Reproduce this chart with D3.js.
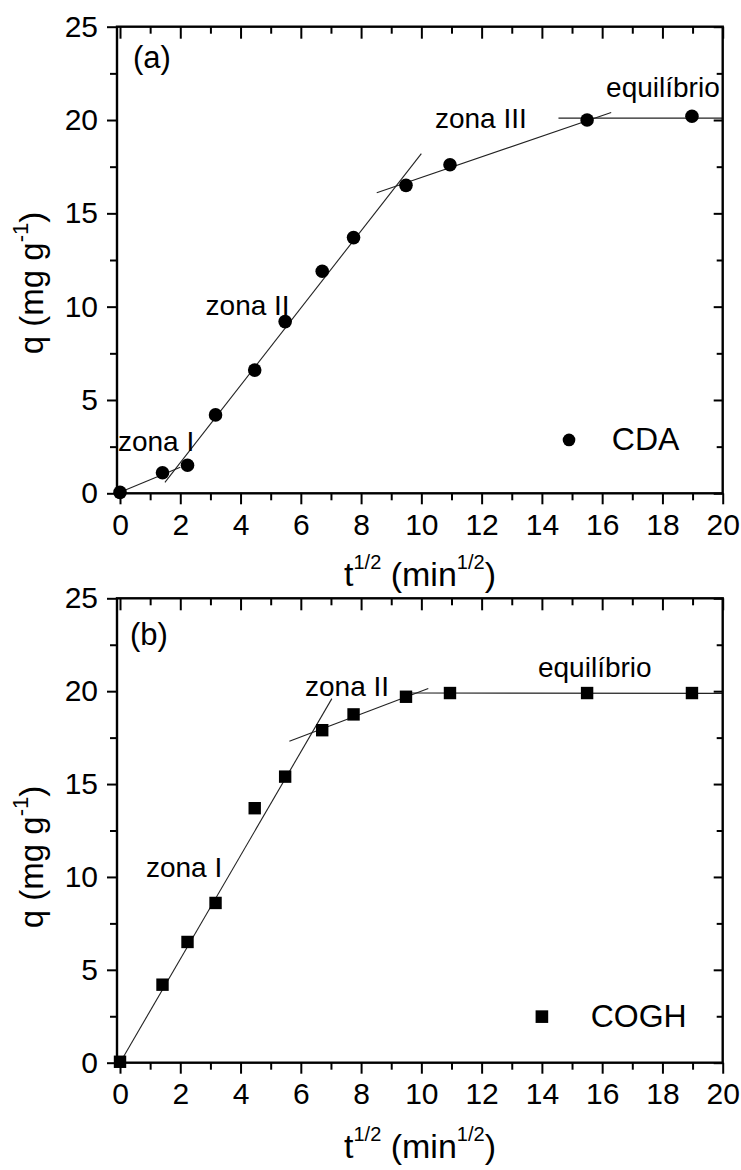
<!DOCTYPE html>
<html>
<head>
<meta charset="utf-8">
<script src="https://cdn.jsdelivr.net/npm/d3@7"></script>
<style>
  body { margin: 0; background: #fff; }
  svg { display: block; font-family: "Liberation Sans", Arial, sans-serif; }
</style>
</head>
<body>
<div id="chart"></div>
<script>
// t^(1/2) values shared by both panels
const tHalf = [0, 1.41, 2.24, 3.17, 4.47, 5.48, 6.71, 7.75, 9.49, 10.95, 15.5, 18.98];
const qCDA = [0.05, 1.1, 1.5, 4.2, 6.6, 9.2, 11.9, 13.7, 16.5, 17.6, 20.0, 20.2];
const qCOGH = [0.05, 4.2, 6.5, 8.6, 13.7, 15.4, 17.9, 18.75, 19.7, 19.9, 19.9, 19.9];

// fitted segments [x1, y1, x2, y2]
const fitCDA = [
    [0, 0.05, 2.0, 1.4],
    [1.49, 0.59, 10.0, 18.2],
    [8.52, 16.1, 16.3, 20.4],
    [14.55, 20.1, 20, 20.1]
];
const fitCOGH = [
    [0, 0, 7.03, 19.6],
    [5.62, 17.3, 10.23, 20.15],
    [9.6, 19.9, 20, 19.88]
];

// zone labels [text, x, y]
const labelsCDA = [["zona I", -0.07, 2.28], ["zona II", 2.84, 9.55], ["zona III", 10.45, 19.58], ["equilíbrio", 16.13, 21.24]];
const labelsCOGH = [["zona I", 0.86, 9.99], ["zona II", 6.14, 19.74], ["equilíbrio", 13.87, 20.78]];

const xMajor = [0, 2, 4, 6, 8, 10, 12, 14, 16, 18, 20];
const xMinor = [1, 3, 5, 7, 9, 11, 13, 15, 17, 19];
const yMajor = [0, 5, 10, 15, 20, 25];
const yMinor = [2.5, 7.5, 12.5, 17.5, 22.5];

const W = 741, H = 1170;

const svg = d3.select("#chart").append("svg")
    .attr("width", W)
    .attr("height", H);

const x = d3.scaleLinear().domain([-0.1, 20]).range([117, 722.7]);

function panel(opts) {
    const y = d3.scaleLinear().domain([0, 25]).range([opts.bottom, opts.top]);
    const g = svg.append("g");

    // fitted lines
    g.selectAll("line.fit")
        .data(opts.fits)
        .join("line")
        .attr("class", "fit")
        .attr("x1", d => x(d[0])).attr("y1", d => y(d[1]))
        .attr("x2", d => x(d[2])).attr("y2", d => y(d[3]))
        .attr("stroke", "#222")
        .attr("stroke-width", 1.1);

    // axes
    const fmt = d3.format("d");
    const ax = [
        [d3.axisBottom(x).tickValues(xMajor).tickSize(11).tickPadding(9).tickFormat(fmt), `translate(0,${opts.bottom})`],
        [d3.axisBottom(x).tickValues(xMinor).tickSize(7).tickFormat(""), `translate(0,${opts.bottom})`],
        [d3.axisTop(x).tickValues(xMajor).tickSize(-12).tickFormat(""), `translate(0,${opts.top})`],
        [d3.axisTop(x).tickValues(xMinor).tickSize(-7).tickFormat(""), `translate(0,${opts.top})`],
        [d3.axisLeft(y).tickValues(yMajor).tickSize(10).tickPadding(9).tickFormat(fmt), `translate(117,0)`],
        [d3.axisLeft(y).tickValues(yMinor).tickSize(7).tickFormat(""), `translate(117,0)`],
        [d3.axisRight(y).tickValues(yMajor).tickSize(-9).tickFormat(""), `translate(722.7,0)`],
        [d3.axisRight(y).tickValues(yMinor).tickSize(-6).tickFormat(""), `translate(722.7,0)`]
    ];
    ax.forEach(([a, tr]) => {
        const s = g.append("g").attr("transform", tr).call(a);
        s.select(".domain").remove();
        s.selectAll("line").attr("stroke", "#000").attr("stroke-width", 2);
        s.selectAll("text")
            .attr("font-size", 30)
            .attr("font-family", "'Liberation Sans', Arial, sans-serif")
            .attr("fill", "#000");
    });

    // frame
    g.append("rect")
        .attr("x", 117).attr("y", opts.top)
        .attr("width", 722.7 - 117).attr("height", opts.bottom - opts.top)
        .attr("fill", "none").attr("stroke", "#000").attr("stroke-width", 2.4);

    // markers
    const pts = tHalf.map((t, i) => [t, opts.q[i]]);
    if (opts.shape === "circle") {
        g.selectAll("circle.pt").data(pts).join("circle")
            .attr("class", "pt")
            .attr("cx", d => x(d[0])).attr("cy", d => y(d[1]))
            .attr("r", 6.8).attr("fill", "#000");
    } else {
        g.selectAll("rect.pt").data(pts).join("rect")
            .attr("class", "pt")
            .attr("x", d => x(d[0]) - 6.2).attr("y", d => y(d[1]) - 6.2)
            .attr("width", 12.4).attr("height", 12.4).attr("fill", "#000");
    }

    const txt = (s, px, py, size) => g.append("text")
        .attr("x", px).attr("y", py)
        .attr("font-size", size)
        .attr("fill", "#000")
        .text(s);

    txt(opts.tag, x(opts.tagPos[0]), y(opts.tagPos[1]), 31);
    opts.labels.forEach(d => txt(d[0], x(d[1]), y(d[2]), 28));

    // legend
    if (opts.shape === "circle") {
        g.append("circle").attr("cx", x(opts.legPos[0])).attr("cy", y(opts.legPos[1])).attr("r", 6.3).attr("fill", "#000");
    } else {
        g.append("rect").attr("x", x(opts.legPos[0]) - 6.3).attr("y", y(opts.legPos[1]) - 6.3)
            .attr("width", 12.6).attr("height", 12.6).attr("fill", "#000");
    }
    txt(opts.name, x(opts.legPos[2]), y(opts.legPos[3]), 32);

    // x title
    const xt = g.append("text")
        .attr("x", 420).attr("y", opts.xTitleY)
        .attr("text-anchor", "middle")
        .attr("font-size", 34)
        .attr("fill", "#000");
    xt.append("tspan").text("t");
    xt.append("tspan").attr("font-size", 20).attr("dy", -17).text("1/2");
    xt.append("tspan").attr("dy", 17).text(" (min");
    xt.append("tspan").attr("font-size", 20).attr("dy", -17).text("1/2");
    xt.append("tspan").attr("dy", 17).text(")");

    // y title
    const yt = g.append("text")
        .attr("transform", `translate(43,${opts.yTitleY}) rotate(-90)`)
        .attr("text-anchor", "middle")
        .attr("font-size", 33)
        .attr("fill", "#000");
    yt.append("tspan").text("q (mg g");
    yt.append("tspan").attr("font-size", 22).attr("dy", -15).text("-1");
    yt.append("tspan").attr("dy", 15).text(")");
}

panel({
    top: 26.7, bottom: 493.3, q: qCDA, fits: fitCDA, shape: "circle",
    labels: labelsCDA, tag: "(a)", tagPos: [0.43, 22.8],
    name: "CDA", legPos: [14.9, 2.86, 16.32, 2.32],
    xTitleY: 586, yTitleY: 283
});

panel({
    top: 598.3, bottom: 1062.7, q: qCOGH, fits: fitCOGH, shape: "square",
    labels: labelsCOGH, tag: "(b)", tagPos: [0.33, 22.48],
    name: "COGH", legPos: [14.0, 2.48, 15.62, 1.92],
    xTitleY: 1158, yTitleY: 857
});
</script>
</body>
</html>
